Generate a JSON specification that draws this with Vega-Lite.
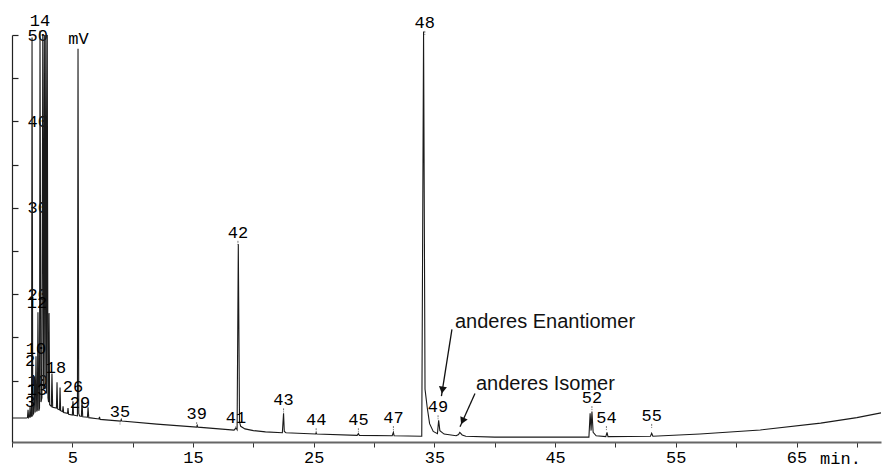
{
  "$schema": "https://vega.github.io/schema/vega-lite/v6.json",
  "autosize": "none",
  "width": 869,
  "height": 407,
  "padding": {"left": 12, "top": 35, "right": 1, "bottom": 26},
  "background": "white",
  "config": {"view": {"stroke": null}, "font": "Liberation Mono"},
  "datasets": {
    "trace": [
      {"t": 0, "mv": 5.65}, {"t": 1.2, "mv": 5.65}, {"t": 1.28, "mv": 5.7}, {"t": 1.33, "mv": 6.6}, {"t": 1.38, "mv": 5.7},
      {"t": 1.45, "mv": 5.8}, {"t": 1.5, "mv": 7.0}, {"t": 1.55, "mv": 5.8}, {"t": 1.62, "mv": 5.9}, {"t": 1.66, "mv": 49.7},
      {"t": 1.72, "mv": 6.0}, {"t": 1.8, "mv": 6.2}, {"t": 1.86, "mv": 10.5}, {"t": 1.92, "mv": 6.3}, {"t": 1.99, "mv": 12.8},
      {"t": 2.05, "mv": 6.4}, {"t": 2.1, "mv": 6.6}, {"t": 2.15, "mv": 17.9}, {"t": 2.22, "mv": 6.5}, {"t": 2.28, "mv": 6.8},
      {"t": 2.32, "mv": 50.5}, {"t": 2.4, "mv": 7.5}, {"t": 2.48, "mv": 8.0}, {"t": 2.55, "mv": 50.0}, {"t": 2.62, "mv": 9.0},
      {"t": 2.68, "mv": 50.0}, {"t": 2.74, "mv": 9.0}, {"t": 2.8, "mv": 50.0}, {"t": 2.86, "mv": 8.5}, {"t": 2.92, "mv": 50.0},
      {"t": 2.98, "mv": 8.0}, {"t": 3.03, "mv": 7.5}, {"t": 3.07, "mv": 17.8}, {"t": 3.12, "mv": 7.2}, {"t": 3.26, "mv": 7.0},
      {"t": 3.31, "mv": 10.8}, {"t": 3.37, "mv": 6.9}, {"t": 3.68, "mv": 6.8}, {"t": 3.73, "mv": 9.8}, {"t": 3.78, "mv": 6.7},
      {"t": 3.94, "mv": 6.6}, {"t": 3.98, "mv": 9.2}, {"t": 4.03, "mv": 6.5}, {"t": 4.19, "mv": 6.4}, {"t": 4.23, "mv": 7.0},
      {"t": 4.28, "mv": 6.3}, {"t": 4.6, "mv": 6.2}, {"t": 4.64, "mv": 6.8}, {"t": 4.69, "mv": 6.1}, {"t": 5.0, "mv": 6.0},
      {"t": 5.05, "mv": 7.6}, {"t": 5.1, "mv": 6.0}, {"t": 5.42, "mv": 5.9}, {"t": 5.47, "mv": 48.4}, {"t": 5.53, "mv": 6.2},
      {"t": 5.6, "mv": 5.9}, {"t": 5.75, "mv": 5.85}, {"t": 5.8, "mv": 7.7}, {"t": 5.86, "mv": 5.8}, {"t": 6.25, "mv": 5.75},
      {"t": 6.3, "mv": 6.9}, {"t": 6.36, "mv": 5.7}, {"t": 7.2, "mv": 5.55}, {"t": 7.25, "mv": 5.8}, {"t": 7.3, "mv": 5.5},
      {"t": 9.0, "mv": 5.3}, {"t": 9.05, "mv": 5.5}, {"t": 9.1, "mv": 5.3}, {"t": 12, "mv": 4.95}, {"t": 15.3, "mv": 4.6},
      {"t": 15.35, "mv": 4.8}, {"t": 15.4, "mv": 4.6}, {"t": 18.4, "mv": 4.25}, {"t": 18.55, "mv": 4.5}, {"t": 18.65, "mv": 4.3},
      {"t": 18.75, "mv": 25.8}, {"t": 18.85, "mv": 5.2}, {"t": 18.95, "mv": 4.7}, {"t": 19.3, "mv": 4.4}, {"t": 20.0, "mv": 4.2},
      {"t": 21, "mv": 4.05}, {"t": 22.4, "mv": 3.95}, {"t": 22.5, "mv": 6.2}, {"t": 22.56, "mv": 4.1}, {"t": 22.7, "mv": 3.95},
      {"t": 25.15, "mv": 3.8}, {"t": 25.2, "mv": 3.95}, {"t": 25.25, "mv": 3.8}, {"t": 28.6, "mv": 3.65}, {"t": 28.7, "mv": 3.85},
      {"t": 28.78, "mv": 3.65}, {"t": 31.5, "mv": 3.6}, {"t": 31.6, "mv": 4.0}, {"t": 31.66, "mv": 3.6}, {"t": 33.95, "mv": 3.55},
      {"t": 34.1, "mv": 50.4}, {"t": 34.22, "mv": 9.0}, {"t": 34.4, "mv": 6.9}, {"t": 34.6, "mv": 5.0}, {"t": 34.9, "mv": 4.1},
      {"t": 35.25, "mv": 3.85}, {"t": 35.35, "mv": 5.4}, {"t": 35.45, "mv": 4.2}, {"t": 35.8, "mv": 3.8}, {"t": 36.8, "mv": 3.6},
      {"t": 37.0, "mv": 3.75}, {"t": 37.1, "mv": 4.0}, {"t": 37.3, "mv": 3.7}, {"t": 37.6, "mv": 3.55}, {"t": 40, "mv": 3.45},
      {"t": 47.8, "mv": 3.45}, {"t": 47.9, "mv": 6.2}, {"t": 47.98, "mv": 4.2}, {"t": 48.05, "mv": 6.4}, {"t": 48.15, "mv": 4.0},
      {"t": 48.4, "mv": 3.6}, {"t": 49.2, "mv": 3.5}, {"t": 49.3, "mv": 4.0}, {"t": 49.38, "mv": 3.5}, {"t": 52.9, "mv": 3.55},
      {"t": 53.0, "mv": 3.9}, {"t": 53.1, "mv": 3.55}, {"t": 57, "mv": 3.8}, {"t": 62, "mv": 4.27}, {"t": 67, "mv": 5.07},
      {"t": 70, "mv": 5.7}, {"t": 72, "mv": 6.25}
    ],
    "labels": [
      {"t": 2.32, "mv": 51.6, "text": "14"}, {"t": 2.07, "mv": 19.0, "text": "12"}, {"t": 1.99, "mv": 13.7, "text": "10"},
      {"t": 1.49, "mv": 12.3, "text": "2"}, {"t": 3.65, "mv": 11.4, "text": "18"}, {"t": 2.07, "mv": 8.9, "text": "13"},
      {"t": 1.49, "mv": 7.5, "text": "3"}, {"t": 5.05, "mv": 9.2, "text": "26"}, {"t": 5.63, "mv": 7.4, "text": "29"},
      {"t": 8.95, "mv": 6.3, "text": "35"}, {"t": 15.3, "mv": 6.1, "text": "39"}, {"t": 18.56, "mv": 5.65, "text": "41"},
      {"t": 18.72, "mv": 27.1, "text": "42"}, {"t": 22.5, "mv": 7.7, "text": "43"}, {"t": 25.2, "mv": 5.4, "text": "44"},
      {"t": 28.7, "mv": 5.4, "text": "45"}, {"t": 31.6, "mv": 5.65, "text": "47"}, {"t": 34.2, "mv": 51.4, "text": "48"},
      {"t": 35.3, "mv": 6.9, "text": "49"}, {"t": 48.05, "mv": 7.96, "text": "52"}, {"t": 49.25, "mv": 5.65, "text": "54"},
      {"t": 53.0, "mv": 5.9, "text": "55"}
    ],
    "notes": [
      {"t": 36.7, "mv": 16.03, "text": "anderes Enantiomer"},
      {"t": 38.44, "mv": 8.88, "text": "anderes Isomer"}
    ],
    "arrows": [
      {"name": "enantiomer", "t": 36.45, "mv": 15.92, "t2": 35.58, "mv2": 8.19, "ht": 35.66, "hmv": 8.9},
      {"name": "isomer", "t": 38.36, "mv": 8.5, "t2": 37.12, "mv2": 4.65, "ht": 37.33, "hmv": 5.3}
    ]
  },
  "layer": [
    {
      "data": {"name": "trace"},
      "mark": {"type": "line", "color": "#1a1a1a", "strokeWidth": 1.1, "clip": false},
      "encoding": {
        "x": {
          "field": "t", "type": "quantitative",
          "scale": {"domain": [0, 72], "nice": false, "zero": false},
          "axis": {
            "values": [0, 5, 10, 15, 20, 25, 30, 35, 40, 45, 50, 55, 60, 65, 70],
            "labelExpr": "datum.value % 10 == 5 ? datum.label : ''",
            "grid": false,
            "domainColor": "#666", "domainWidth": 2,
            "tickColor": "#333", "tickSize": 5, "tickWidth": 1,
            "labelFont": "Liberation Mono", "labelFontSize": 17, "labelColor": "#000",
            "labelPadding": 2, "labelFlush": false, "labelOverlap": false,
            "title": "min.", "titleFont": "Liberation Mono", "titleFontSize": 17, "titleFontWeight": "normal",
            "titleColor": "#000", "titleX": 828, "titleY": 16, "titleAlign": "center", "titleBaseline": "middle"
          }
        },
        "y": {
          "field": "mv", "type": "quantitative",
          "scale": {"domain": [2.88, 50], "nice": false, "zero": false},
          "axis": {
            "values": [10, 15, 20, 25, 30, 35, 40, 45, 50],
            "labelExpr": "datum.value % 10 == 0 ? datum.label : ''",
            "grid": false,
            "domainColor": "#222", "domainWidth": 1.2,
            "tickColor": "#222", "tickSize": -6, "tickWidth": 1.2,
            "labelFont": "Liberation Mono", "labelFontSize": 17, "labelColor": "#000",
            "labelPadding": -9, "labelAlign": "left", "labelBaseline": "middle", "labelOverlap": false, "labelFlush": false,
            "title": "mV", "titleFont": "Liberation Mono", "titleFontSize": 17, "titleFontWeight": "normal",
            "titleColor": "#000", "titleAngle": 0, "titleX": 66, "titleY": 3, "titleAlign": "center", "titleBaseline": "middle"
          }
        }
      }
    },
    {
      "data": {"name": "labels"},
      "transform": [{"filter": "datum.t > 8"}],
      "mark": {"type": "rule", "color": "#777", "strokeWidth": 1, "strokeDash": [2, 1], "yOffset": 8, "y2Offset": 12},
      "encoding": {
        "x": {"field": "t", "type": "quantitative"},
        "y": {"field": "mv", "type": "quantitative"},
        "y2": {"field": "mv"}
      }
    },
    {
      "data": {"name": "labels"},
      "mark": {"type": "text", "font": "Liberation Mono", "fontSize": 17, "color": "#000", "align": "center", "baseline": "middle"},
      "encoding": {
        "x": {"field": "t", "type": "quantitative"},
        "y": {"field": "mv", "type": "quantitative"},
        "text": {"field": "text"}
      }
    },
    {
      "data": {"name": "notes"},
      "mark": {"type": "text", "font": "Liberation Sans", "fontSize": 20, "color": "#111", "align": "left", "baseline": "alphabetic"},
      "encoding": {
        "x": {"field": "t", "type": "quantitative"},
        "y": {"field": "mv", "type": "quantitative"},
        "text": {"field": "text"}
      }
    },
    {
      "data": {"name": "arrows"},
      "mark": {"type": "rule", "color": "#111", "strokeWidth": 1.3},
      "encoding": {
        "x": {"field": "t", "type": "quantitative"},
        "y": {"field": "mv", "type": "quantitative"},
        "x2": {"field": "t2"},
        "y2": {"field": "mv2"}
      }
    },
    {
      "data": {"name": "arrows"},
      "transform": [{"filter": "datum.name == 'enantiomer'"}],
      "mark": {"type": "point", "shape": "triangle-down", "filled": true, "color": "#111", "size": 65, "angle": 8.65, "opacity": 1},
      "encoding": {
        "x": {"field": "ht", "type": "quantitative"},
        "y": {"field": "hmv", "type": "quantitative"}
      }
    },
    {
      "data": {"name": "arrows"},
      "transform": [{"filter": "datum.name == 'isomer'"}],
      "mark": {"type": "point", "shape": "triangle-down", "filled": true, "color": "#111", "size": 65, "angle": 24.2, "opacity": 1},
      "encoding": {
        "x": {"field": "ht", "type": "quantitative"},
        "y": {"field": "hmv", "type": "quantitative"}
      }
    }
  ]
}
